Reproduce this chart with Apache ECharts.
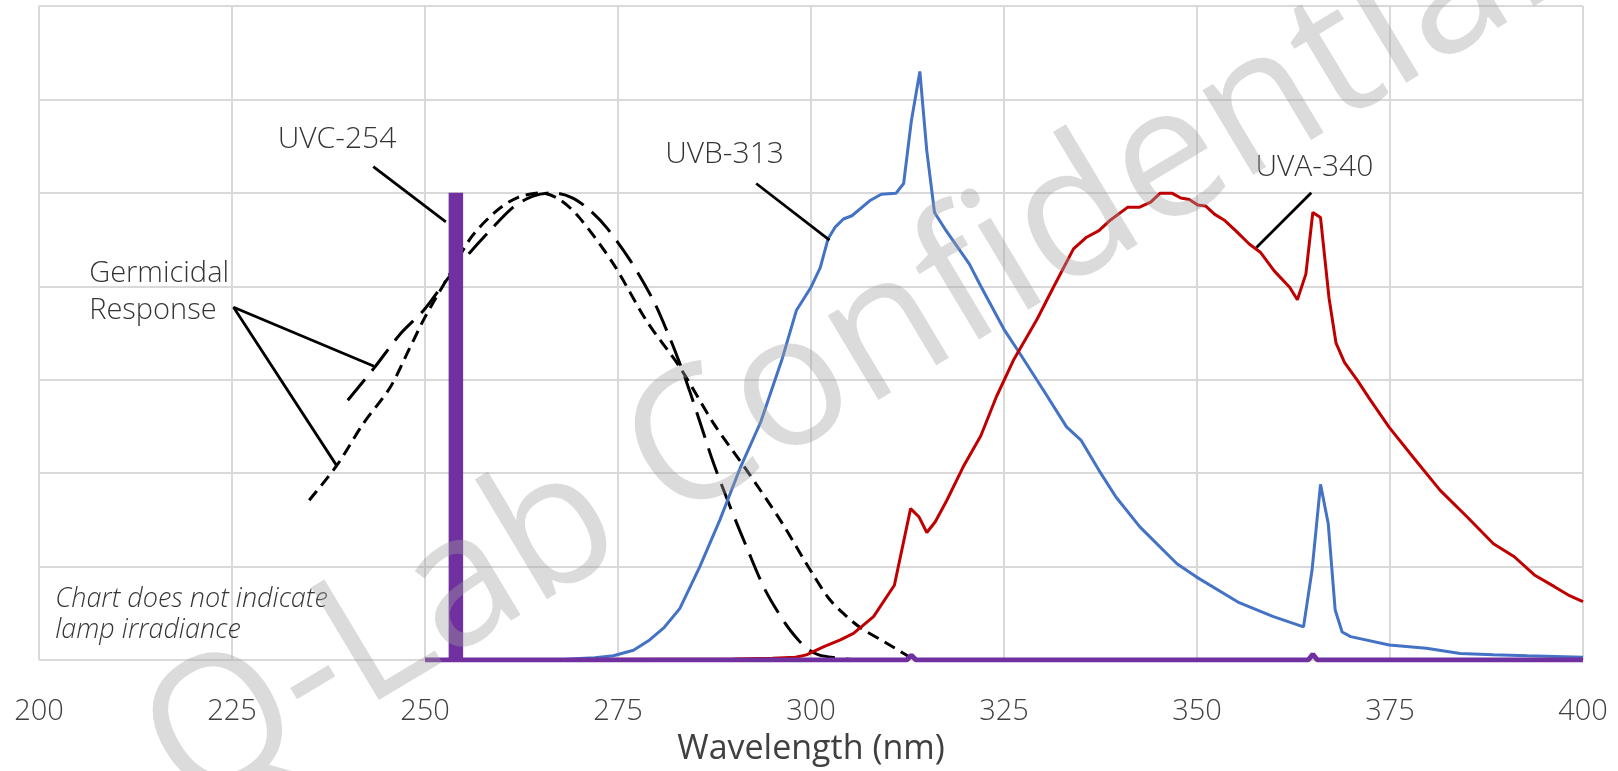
<!DOCTYPE html>
<html>
<head>
<meta charset="utf-8">
<title>UV lamp spectra vs germicidal response</title>
<script src="https://cdn.jsdelivr.net/npm/echarts@6/dist/echarts.min.js"></script>
<style>
  html, body { margin: 0; padding: 0; background: #fff; }
  #chart { width: 1618px; height: 771px; }
</style>
</head>
<body>
<div id="chart"></div>
<script>
// x axis (nm)
const xMin = 200, xMax = 400, xStep = 25;
// y axis (relative, no labels)
const yMin = 0, yMax = 1.4, yStep = 0.2;

// germicidal response, short dashes
const germShortNm  = [235, 238.6, 242, 245.5, 248, 250, 253, 256, 259.3, 262, 265, 267.5, 270, 274.4, 278.7, 283, 287.4, 291.5, 296, 300, 302.4, 304.5, 306.5, 309.8, 313];
const germShortVal = [0.342, 0.417, 0.506, 0.584, 0.667, 0.734, 0.82, 0.905, 0.962, 0.99, 1.0, 0.985, 0.947, 0.848, 0.726, 0.627, 0.506, 0.41, 0.3, 0.19, 0.13, 0.095, 0.068, 0.036, 0.004];

// germicidal response, long dashes
const germLongNm  = [240, 243.5, 246.8, 249.8, 252.4, 255.8, 258.4, 261.4, 264, 266.5, 269, 271.2, 273.5, 276.6, 279.6, 281.7, 283, 284.3, 285.6, 287.4, 289.6, 291.7, 294, 296.6, 298.4, 299.7, 301, 303, 306];
const germLongVal = [0.556, 0.627, 0.698, 0.748, 0.805, 0.872, 0.919, 0.969, 0.993, 1.0, 0.99, 0.965, 0.926, 0.855, 0.769, 0.69, 0.635, 0.575, 0.51, 0.42, 0.325, 0.24, 0.152, 0.08, 0.042, 0.022, 0.011, 0.005, 0];

// UVB-313 lamp
const uvbNm  = [250, 260, 268, 270, 272, 274.4, 277, 279.1, 281, 283, 285.6, 288.2, 290.8, 293.5, 295.3, 296.2, 298.1, 300, 301.2, 302.2, 303.1, 304.2, 305.3, 307.6, 309.1, 311, 312, 313, 314.1, 315, 316, 317.5, 320.5, 322, 325.1, 327.1, 330.4, 333.1, 335, 337.3, 339.5, 342.6, 347.4, 349.9, 355.3, 359.9, 363.8, 364.9, 366, 367, 367.9, 368.8, 369.9, 374.9, 379.7, 384.1, 388.4, 392.8, 400];
const uvbVal = [0, 0, 0.001, 0.003, 0.005, 0.009, 0.021, 0.043, 0.07, 0.11, 0.2, 0.3, 0.41, 0.51, 0.598, 0.641, 0.748, 0.798, 0.84, 0.901, 0.926, 0.944, 0.951, 0.983, 0.997, 0.999, 1.02, 1.154, 1.26, 1.09, 0.958, 0.919, 0.848, 0.8, 0.705, 0.655, 0.57, 0.499, 0.47, 0.406, 0.349, 0.285, 0.206, 0.178, 0.124, 0.093, 0.071, 0.192, 0.376, 0.292, 0.107, 0.06, 0.05, 0.032, 0.025, 0.014, 0.011, 0.009, 0.006];

// UVA-340 lamp
const uvaNm  = [250, 270, 290, 295, 298, 299.4, 301.6, 303.8, 305.5, 308.1, 310.8, 312.9, 314, 315, 316.1, 317.6, 319.7, 322, 324, 326.2, 329.3, 331.4, 334, 335.7, 337.3, 338.8, 341, 342.5, 344, 345.2, 346.8, 347.9, 349, 350.1, 351.1, 352.3, 353.5, 355, 356.8, 358.2, 360, 362, 363, 364.1, 365, 366, 367.1, 368, 369.1, 370.8, 372.4, 374.9, 378, 381.5, 385, 388.4, 391.1, 393.7, 396.3, 398.1, 400];
const uvaVal = [0, 0.001, 0.002, 0.004, 0.006, 0.011, 0.028, 0.043, 0.057, 0.093, 0.16, 0.324, 0.306, 0.273, 0.296, 0.342, 0.413, 0.48, 0.563, 0.641, 0.73, 0.798, 0.88, 0.905, 0.919, 0.942, 0.969, 0.969, 0.98, 0.999, 0.999, 0.989, 0.986, 0.974, 0.972, 0.954, 0.942, 0.919, 0.89, 0.873, 0.833, 0.798, 0.771, 0.826, 0.958, 0.947, 0.775, 0.679, 0.637, 0.598, 0.558, 0.498, 0.434, 0.363, 0.306, 0.249, 0.221, 0.182, 0.157, 0.139, 0.125];

// UVC-254 lamp: baseline with weak Hg lines, and the 254 nm line
const uvcNm  = [250, 312.4, 313, 313.6, 364.4, 365, 365.6, 400];
const uvcVal = [0, 0, 0.01, 0, 0, 0.012, 0, 0];
const uvcLineNm  = [254, 254];
const uvcLineVal = [0, 1.0];

// callout leader lines, [nm, value] pairs
const leaderUvc  = [[243.3, 1.056], [252.7, 0.938]];
const leaderUvb  = [[292.9, 1.02], [302.4, 0.899]];
const leaderUva  = [[364.8, 1.0], [357.7, 0.883]];
const leaderGerm = [[243.4, 0.629], [225.2, 0.755], [238.6, 0.415]];

// callout texts and their anchors
const noteText = ['UVC-254', 'UVB-313', 'UVA-340', 'Germicidal\nResponse', 'Chart does not indicate\nlamp irradiance'];
const noteNm   = [238.6, 288.8, 365.2, 206.5, 202.1];
const noteVal  = [1.115, 1.083, 1.054, 0.787, 0.097];

const pairs = (xs, ys) => xs.map((x, i) => [x, ys[i]]);

const FONT = '"Open Sans", "Noto Sans", sans-serif';
const grid = '#d9d9d9';

function lineSeries(name, data, color, width, dash, extra) {
  return Object.assign({
    name: name,
    type: 'line',
    data: data,
    showSymbol: false,
    symbol: 'none',
    silent: true,
    lineStyle: { color: color, width: width, type: dash || 'solid' }
  }, extra || {});
}

const noteStyles = [
  { position: 'inside', fontSize: 30 },
  { position: 'inside', fontSize: 30 },
  { position: 'inside', fontSize: 30 },
  { position: 'right', distance: 0, align: 'left', fontSize: 29, lineHeight: 37 },
  { position: 'right', distance: 0, align: 'left', fontSize: 27, lineHeight: 31, fontStyle: 'italic' }
];

const series = [
  lineSeries('Germicidal A', pairs(germShortNm, germShortVal), '#000', 3, [12, 7], { smooth: 0.3 }),
  lineSeries('Germicidal B', pairs(germLongNm, germLongVal), '#000', 3, [27, 11], { smooth: 0.3 }),
  lineSeries('UVB-313', pairs(uvbNm, uvbVal), '#4472C4', 3),
  lineSeries('UVA-340', pairs(uvaNm, uvaVal), '#C00000', 3),
  lineSeries('UVC-254', pairs(uvcNm, uvcVal), '#7030A0', 5),
  lineSeries('UVC-254 line', pairs(uvcLineNm, uvcLineVal), '#7030A0', 14.5),
  lineSeries('leader UVC', leaderUvc, '#000', 2.8),
  lineSeries('leader UVB', leaderUvb, '#000', 2.8),
  lineSeries('leader UVA', leaderUva, '#000', 2.8),
  lineSeries('leader Germicidal', leaderGerm, '#000', 2.8),
  {
    type: 'scatter',
    silent: true,
    symbolSize: 0,
    data: noteText.map((t, i) => ({
      value: [noteNm[i], noteVal[i]],
      label: Object.assign({
        show: true,
        formatter: t,
        color: '#000',
        fontFamily: FONT,
        fontWeight: 300
      }, noteStyles[i])
    }))
  }
];

const chart = echarts.init(document.getElementById('chart'), null, { renderer: 'canvas' });
chart.setOption({
  animation: false,
  backgroundColor: '#fff',
  grid: { left: 39, right: 35, top: 6, bottom: 111, containLabel: false, outerBoundsMode: 'none' },
  xAxis: {
    type: 'value',
    min: xMin, max: xMax, interval: xStep,
    name: 'Wavelength (nm)',
    nameLocation: 'middle',
    nameGap: 72,
    nameTextStyle: { fontSize: 34, color: '#404040', fontFamily: FONT },
    axisLine: { show: false },
    axisTick: { show: false },
    axisLabel: { fontSize: 29, color: '#404040', margin: 37, fontFamily: FONT, fontWeight: 300 },
    splitLine: { show: true, lineStyle: { color: grid, width: 2 } }
  },
  yAxis: {
    type: 'value',
    min: yMin, max: yMax, interval: yStep,
    axisLine: { show: false },
    axisTick: { show: false },
    axisLabel: { show: false },
    splitLine: { show: true, lineStyle: { color: grid, width: 2 } }
  },
  graphic: [{
    type: 'text',
    silent: true,
    z: 100,
    x: 848,
    y: 357,
    rotation: 31 * Math.PI / 180,
    style: {
      text: 'Q-Lab Confidential',
      font: '400 184px "Open Sans", "Noto Sans", sans-serif',
      fill: 'rgba(160,160,160,0.38)',
      align: 'center',
      verticalAlign: 'middle'
    }
  }],
  series: series
});
</script>
</body>
</html>
